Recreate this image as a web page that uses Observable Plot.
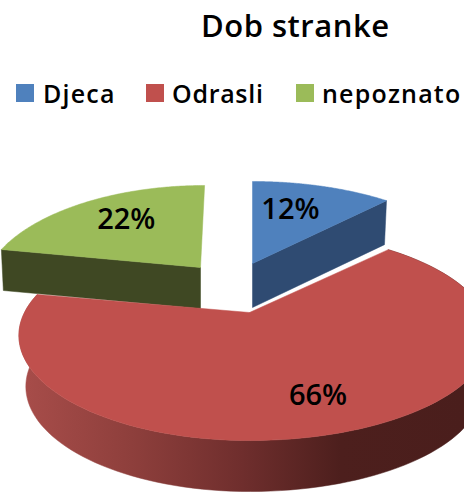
<!DOCTYPE html>
<html><head><meta charset="utf-8">
<script src="https://cdn.jsdelivr.net/npm/d3@7"></script>
<script src="https://cdn.jsdelivr.net/npm/@observablehq/plot@0.6"></script>
<style>
html,body{margin:0;padding:0;background:#fff;overflow:hidden}
#head{position:relative;width:464px;height:120px;font-family:"Open Sans",sans-serif;font-weight:600;color:#000}
#title{position:absolute;left:201px;top:0px;font-size:31px;line-height:50px;white-space:nowrap;letter-spacing:0.5px}
.sw{position:absolute;top:84px;width:18px;height:18px}
.lb{position:absolute;top:75px;font-size:25px;line-height:36px;white-space:nowrap}
svg{display:block}
</style></head><body>
<div id="head"></div>
<div id="chart"></div>
<script>
const titleText = "Dob stranke";
const categories = ["Djeca", "Odrasli", "nepoznato"];
const values = [12, 66, 22];
const topColors = ["#4f81bd", "#c0504d", "#9bbb59"];
const sideColors = ["#2f4b72", "url(#redSide)", "#3f4823"];
const legendSwatchX = [16, 146, 296];
const legendTextX = [43, 172, 322];
const legendSpacing = [1.2, 0.7, 1.2];

// Projection of each exploded slice
const K = 0.219, S = 100;
const layout = [
  {cx: 252, cy: 263, Rl: 227, Rr: 227, skew: 0,  depth: 44, base: 0.985, labelF: 0.65, nudge: -10},
  {cx: 249, cy: 312, Rl: 225, Rr: 235, skew: 0,  depth: 51, base: 0.97, labelF: 0.74, nudge: 5},
  {cx: 200, cy: 267, Rl: 212, Rr: 212, skew: -5, depth: 41, base: 0.99, labelF: 0.70, nudge: 8}
];

const head = document.getElementById("head");
head.innerHTML = `<div id="title">${titleText}</div>` + categories.map((c, i) =>
  `<div class="sw" style="left:${legendSwatchX[i]}px;background:${topColors[i]}"></div>` +
  `<div class="lb" style="left:${legendTextX[i]}px;letter-spacing:${legendSpacing[i]}px">${c}</div>`).join("");

const total = d3.sum(values);
let acc = 0;
const slices = values.map((v, i) => {
  const a0 = acc / total * 2 * Math.PI; acc += v;
  const a1 = acc / total * 2 * Math.PI;
  return {i, v, a0, a1, mid: (a0 + a1) / 2, ...layout[i]};
});
function project(s, a, f = 1, dz = 0) {
  const u = f * Math.sin(a), v = -f * Math.cos(a), w = 1 - K * v;
  const R = u < 0 ? s.Rl : s.Rr;
  const shrink = dz ? s.base : 1;
  return {x: s.cx + shrink * (R * u + s.skew * v) / w, y: s.cy + S * v / w + dz};
}
function arc(s, dz = 0) {
  return d3.range(0, 121).map(t => project(s, s.a0 + (s.a1 - s.a0) * t / 120, 1, dz));
}
const apex = (s, dz = 0) => ({x: s.cx, y: s.cy + dz});
const topFace = s => [apex(s), ...arc(s), apex(s)];
const radial = (s, a) => {
  const p = project(s, a), q = project(s, a, 1, s.depth);
  return [apex(s), p, q, apex(s, s.depth), apex(s)];
};
const redSide = s => [...arc(s), ...arc(s, s.depth).reverse()];
const poly = (pts, fill) => Plot.line(pts, {x: "x", y: "y", fill, stroke: fill, strokeWidth: 0.5, curve: "linear"});

const [blue, red, green] = slices;
const defs = () => {
  const d = d3.create("svg:defs");
  const g = d.append("linearGradient").attr("id", "redSide").attr("gradientUnits", "userSpaceOnUse")
    .attr("x1", 20).attr("x2", 464).attr("y1", 0).attr("y2", 0);
  [[0, "#a84d4a"], [0.25, "#8e3f3c"], [0.5, "#6f2e2d"], [0.72, "#4d1f1d"], [1, "#4a1e1c"]]
    .forEach(([o, c]) => g.append("stop").attr("offset", o).attr("stop-color", c));
  return d.node();
};

const labels = slices.map(s => {
  const p = project(s, s.mid, s.labelF);
  return {x: p.x + s.nudge, y: p.y, text: s.v + "%"};
});

const plot = Plot.plot({
  width: 464, height: 372, margin: 0,
  x: {domain: [0, 464], range: [0, 464], axis: null},
  y: {domain: [120, 492], range: [0, 372], axis: null},
  marks: [
    defs,
    poly(radial(blue, blue.a1), sideColors[0]),
    poly(radial(green, green.a0), sideColors[2]),
    poly(topFace(blue), topColors[0]),
    poly(topFace(green), topColors[2]),
    Plot.line([apex(red), project(red, red.a0)], {x: "x", y: "y", stroke: "#fff", strokeWidth: 2.5}),
    poly(redSide(red), sideColors[1]),
    poly(topFace(red), topColors[1]),
    Plot.text(labels, {x: "x", y: "y", text: "text", fill: "#000", fontSize: 29, fontWeight: 600,
      fontFamily: "Open Sans", textAnchor: "middle", lineAnchor: "middle"})
  ]
});
document.getElementById("chart").append(plot);
</script>
</body></html>
